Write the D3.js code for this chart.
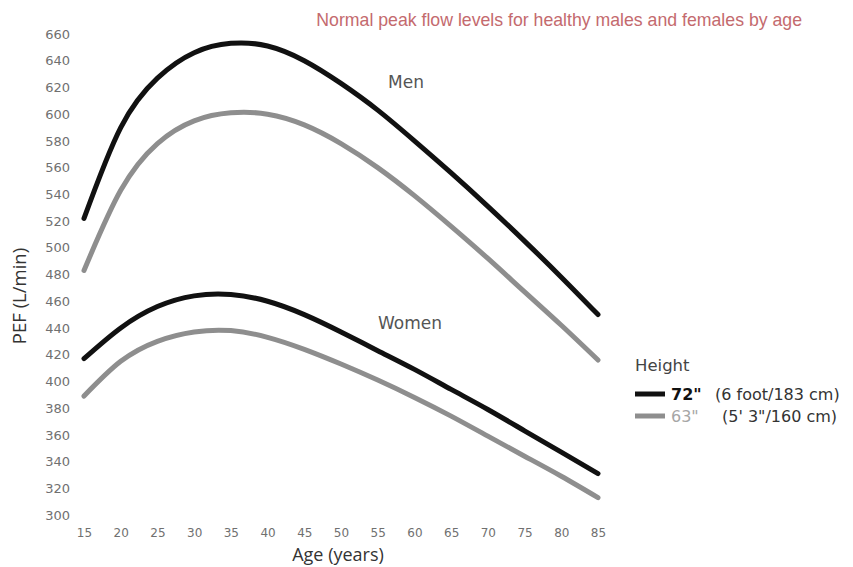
<!DOCTYPE html>
<html>
<head>
<meta charset="utf-8">
<script src="https://cdn.jsdelivr.net/npm/d3@7"></script>
<style>
  html, body { margin: 0; padding: 0; background: #fff; }
  svg { display: block; }
</style>
</head>
<body>
<svg id="chart" width="853" height="567"></svg>
<script>
// ---- Data ----
const ages = [15, 20, 25, 30, 35, 40, 45, 50, 55, 60, 65, 70, 75, 80, 85];
const men72   = [522, 590, 627, 646, 653, 651, 640, 623, 603, 580, 556, 531, 505, 478, 450];
const men63   = [483, 543, 578, 595, 601, 600, 592, 578, 560, 539, 516, 492, 467, 442, 416];
const women72 = [417, 440, 456, 464, 465, 460, 450, 437, 423, 409, 394, 379, 363, 347, 331];
const women63 = [389, 415, 430, 437, 438, 433, 424, 413, 401, 388, 374, 359, 344, 329, 313];
const yTicks = [300, 320, 340, 360, 380, 400, 420, 440, 460, 480, 500, 520, 540, 560, 580, 600, 620, 640, 660];
const xTicks = [15, 20, 25, 30, 35, 40, 45, 50, 55, 60, 65, 70, 75, 80, 85];
const seriesNames = ["Men 72\"", "Men 63\"", "Women 72\"", "Women 63\""];
const legendHeights = ["72\"", "63\""];
const legendMetric = ["(6 foot/183 cm)", "(5' 3\"/160 cm)"];

const BLACK = "#111111", GRAY = "#8e8e8e";

const svg = d3.select("#chart");
const x = d3.scaleLinear().domain([15, 85]).range([84, 598]);
const y = d3.scaleLinear().domain([300, 660]).range([515, 34]);

// Axes (labels only)
const yAxis = d3.axisLeft(y).tickValues(yTicks).tickSize(0).tickPadding(0).tickFormat(d3.format("d"));
const gy = svg.append("g").attr("transform", "translate(70,0)").call(yAxis);
gy.select(".domain").remove();
gy.selectAll("text").attr("font-family", "DejaVu Sans, sans-serif").attr("font-size", "13px").attr("fill", "#707070");

const xAxis = d3.axisBottom(x).tickValues(xTicks).tickSize(0).tickPadding(0).tickFormat(d3.format("d"));
const gx = svg.append("g").attr("transform", "translate(0,528)").call(xAxis);
gx.select(".domain").remove();
gx.selectAll("text").attr("font-family", "DejaVu Sans, sans-serif").attr("font-size", "12px").attr("fill", "#707070");

// Axis titles
svg.append("text").attr("x", 338).attr("y", 561).attr("text-anchor", "middle")
  .attr("font-family", "Open Sans, sans-serif").attr("font-size", "18px").attr("fill", "#333")
  .text("Age (years)");
svg.append("text").attr("transform", "translate(26,296) rotate(-90)").attr("text-anchor", "middle")
  .attr("font-family", "Open Sans, sans-serif").attr("font-size", "18.5px").attr("fill", "#333")
  .text("PEF (L/min)");

// Title
svg.append("text").attr("x", 802).attr("y", 26).attr("text-anchor", "end")
  .attr("font-family", "Liberation Sans, Arial, sans-serif").attr("font-size", "17.7px").attr("fill", "#c46a6e")
  .text("Normal peak flow levels for healthy males and females by age");

// Lines
const line = d3.line().x(d => x(d[0])).y(d => y(d[1])).curve(d3.curveNatural);
const series = [
  { name: seriesNames[0], values: men72, color: BLACK },
  { name: seriesNames[1], values: men63, color: GRAY },
  { name: seriesNames[2], values: women72, color: BLACK },
  { name: seriesNames[3], values: women63, color: GRAY }
];
svg.append("g").selectAll("path").data(series).join("path")
  .attr("d", s => line(ages.map((a, i) => [a, s.values[i]])))
  .attr("fill", "none").attr("stroke", s => s.color).attr("stroke-width", 5)
  .attr("stroke-linecap", "round");

// Group labels
svg.append("text").attr("x", 406).attr("y", 88).attr("text-anchor", "middle")
  .attr("font-family", "DejaVu Sans, sans-serif").attr("font-size", "17px").attr("fill", "#555").text("Men");
svg.append("text").attr("x", 410).attr("y", 329).attr("text-anchor", "middle")
  .attr("font-family", "DejaVu Sans, sans-serif").attr("font-size", "17px").attr("fill", "#555").text("Women");

// Legend
const lg = svg.append("g").attr("font-family", "DejaVu Sans, sans-serif");
lg.append("text").attr("x", 635).attr("y", 371).attr("font-size", "16.5px").attr("fill", "#444").text("Height");
const legendRows = [
  { h: legendHeights[0], m: legendMetric[0], color: BLACK, y: 394, hx: 671, mx: 715, hcol: "#111", bold: true },
  { h: legendHeights[1], m: legendMetric[1], color: GRAY, y: 416, hx: 671, mx: 722, hcol: "#a6a6a6", bold: false }
];
legendRows.forEach(r => {
  lg.append("line").attr("x1", 635).attr("x2", 665).attr("y1", r.y).attr("y2", r.y)
    .attr("stroke", r.color).attr("stroke-width", 5);
  lg.append("text").attr("x", r.hx).attr("y", r.y + 6).attr("font-size", "16px")
    .attr("font-weight", r.bold ? "bold" : "normal").attr("fill", r.hcol).text(r.h);
  lg.append("text").attr("x", r.mx).attr("y", r.y + 6).attr("font-size", "16px").attr("fill", "#333").text(r.m);
});
</script>
</body>
</html>
